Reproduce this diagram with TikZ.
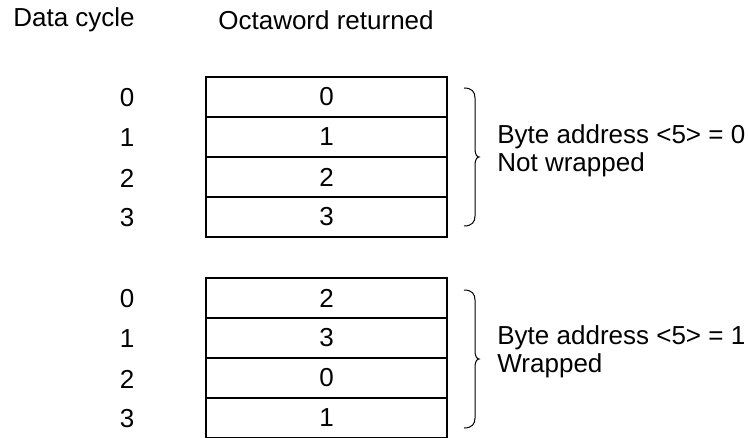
\documentclass[tikz,border=0pt]{standalone}
\usepackage{fontspec}
\setmainfont{Liberation Sans}
\usepackage{tikz}

\begin{document}
\begin{tikzpicture}[x=0.5pt,y=-0.5pt,
  testo/.style={font=\fontsize{13}{14}\selectfont, inner sep=0pt},
  cella/.style={draw, line width=1pt, minimum width=120.5pt, minimum height=20pt,
    inner sep=0pt, font=\fontsize{13}{14}\selectfont},
  graffa/.style={line width=0.5pt}]

% Bordi del disegno
\useasboundingbox (0,0) rectangle (749,438);

% Intestazioni
\node[testo] (hcycle) at (74,20) {Data cycle};
\node[testo] (hocta) at (326,20) {Octaword returned};

% Primo gruppo (non wrapped)
\node[cella] (a0) at (326.5,97) {0};
\node[cella] (a1) at (326.5,137) {1};
\node[cella] (a2) at (326.5,177) {2};
\node[cella] (a3) at (326.5,217) {3};

\node[testo] (ca0) at (127,98) {0};
\node[testo] (ca1) at (127,138) {1};
\node[testo] (ca2) at (127,178) {2};
\node[testo] (ca3) at (127,218) {3};

% Secondo gruppo (wrapped)
\node[cella] (b0) at (326.5,298) {2};
\node[cella] (b1) at (326.5,338) {3};
\node[cella] (b2) at (326.5,378) {0};
\node[cella] (b3) at (326.5,418) {1};

\node[testo] (cb0) at (127,299) {0};
\node[testo] (cb1) at (127,339) {1};
\node[testo] (cb2) at (127,379) {2};
\node[testo] (cb3) at (127,419) {3};

% Graffe
\draw[graffa] (464,88) .. controls (472,88) and (475,92) .. (475,98) -- (475,151)
  .. controls (475,154) and (477,157) .. (479,157)
  .. controls (477,157) and (475,160) .. (475,163) -- (475,216)
  .. controls (475,222) and (472,226) .. (464,226);
\draw[graffa] (464,290) .. controls (472,290) and (475,294) .. (475,300) -- (475,353)
  .. controls (475,356) and (477,359) .. (479,359)
  .. controls (477,359) and (475,362) .. (475,365) -- (475,418)
  .. controls (475,424) and (472,428) .. (464,428);

% Descrizioni
\node[testo, anchor=west, align=left] (da) at (497,151) {Byte address <5> = 0\\Not wrapped};
\node[testo, anchor=west, align=left] (db) at (497,352) {Byte address <5> = 1\\Wrapped};
\end{tikzpicture}
\end{document}
